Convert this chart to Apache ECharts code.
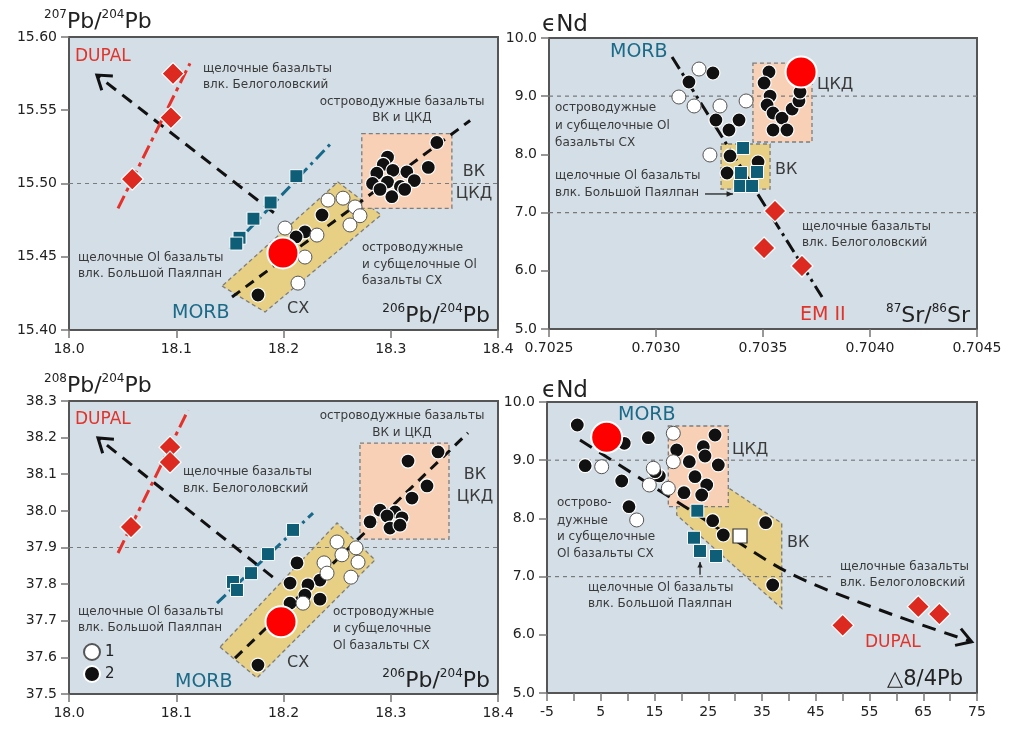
<!DOCTYPE html>
<html>
<head>
<meta charset="utf-8">
<script src="https://cdn.jsdelivr.net/npm/echarts@6/dist/echarts.min.js"></script>
<style>html,body{margin:0;background:#fff}#c{width:1010px;height:733px}</style>
</head>
<body>
<div id="c"></div>
<script>
// ---------- Panel A: 207Pb/204Pb vs 206Pb/204Pb ----------
const A_white = [[18.2415,15.4887],[18.2555,15.490],[18.2667,15.484],[18.2713,15.478],[18.262,15.4717],[18.2014,15.4696],[18.2312,15.4648],[18.220,15.4498],[18.2135,15.432]];
const A_black = [[18.343,15.528],[18.335,15.511],[18.297,15.518],[18.293,15.513],[18.302,15.509],[18.287,15.507],[18.315,15.508],[18.322,15.502],[18.283,15.500],[18.297,15.501],[18.309,15.498],[18.301,15.491],[18.313,15.496],[18.290,15.496],[18.2359,15.4785],[18.220,15.467],[18.2117,15.4635],[18.1762,15.4239]];
const A_morb = [[18.1995,15.4526]];
const A_belog = [[18.097,15.575],[18.095,15.545],[18.059,15.503]];
const A_payalpan = [[18.212,15.505],[18.188,15.487],[18.172,15.476],[18.159,15.463],[18.156,15.459]];
const A_belogTrend = [[18.0457,15.483],[18.1128,15.582]];
const A_payTrend = [[18.150,15.455],[18.245,15.528]];
const A_arcTrend = [[18.152,15.4225],[18.374,15.543]];
const A_dupalArrow = [[18.191,15.480],[18.026,15.574]];
const A_cxField = [[18.1427,15.430],[18.1828,15.4123],[18.2909,15.4785],[18.2508,15.501]];
const A_ckdField = [[18.273,15.534],[18.357,15.483]];
const A_ref = [15.50];

// ---------- Panel B: eNd vs 87Sr/86Sr ----------
const B_white = [[0.703201,9.467],[0.703107,8.986],[0.703178,8.832],[0.703299,8.832],[0.703421,8.918],[0.703252,7.990]];
const B_black = [[0.703154,9.244],[0.703266,9.399],[0.703280,8.591],[0.703388,8.591],[0.703341,8.419],[0.703346,7.973],[0.703332,7.680],[0.703477,7.869],[0.703528,9.416],[0.703505,9.227],[0.703533,9.003],[0.703519,8.849],[0.703547,8.711],[0.703589,8.625],[0.703636,8.780],[0.703668,8.918],[0.703673,9.072],[0.703547,8.419],[0.703612,8.419]];
const B_morb = [[0.703678,9.416]];
const B_belog = [[0.703556,7.027],[0.703505,6.392],[0.703682,6.082]];
const B_payalpan = [[0.703407,8.110],[0.703397,7.680],[0.703472,7.698],[0.703393,7.457],[0.703449,7.457]];
const B_trend = [[0.703075,9.674],[0.703776,5.550]];
const B_vkField = [[0.703304,8.179],[0.703533,7.405]];
const B_ckdField = [[0.703453,9.570],[0.703729,8.213]];
const B_noteArrow = [[0.703229,7.32],[0.703360,7.32]];
const B_ref = [9.0, 7.0];

// ---------- Panel C: 208Pb/204Pb vs 206Pb/204Pb ----------
const C_white = [[18.2499,37.915],[18.2676,37.899],[18.2545,37.880],[18.2695,37.860],[18.2378,37.858],[18.2629,37.819],[18.2406,37.830],[18.2182,37.748]];
const C_black = [[18.3441,38.161],[18.3161,38.136],[18.3338,38.068],[18.3198,38.035],[18.3040,37.997],[18.2900,38.002],[18.2965,37.986],[18.2807,37.970],[18.3105,37.981],[18.2993,37.953],[18.3086,37.961],[18.2126,37.858],[18.2061,37.803],[18.2340,37.811],[18.2228,37.798],[18.2340,37.759],[18.2200,37.770],[18.2061,37.748],[18.1762,37.579]];
const C_morb = [[18.1977,37.697]];
const C_belog = [[18.0942,38.174],[18.0942,38.133],[18.0578,37.956]];
const C_payalpan = [[18.2089,37.948],[18.1855,37.882],[18.1697,37.830],[18.1529,37.806],[18.1566,37.784]];
const C_belogTrend = [[18.0457,37.885],[18.111,38.275]];
const C_payTrend = [[18.138,37.748],[18.2275,37.994]];
const C_arcTrend = [[18.1548,37.598],[18.372,38.213]];
const C_dupalArrow = [[18.190,37.819],[18.027,38.199]];
const C_cxField = [[18.1408,37.628],[18.1753,37.544],[18.2853,37.866],[18.2499,37.967]];
const C_ckdField = [[18.2713,38.185],[18.3543,37.923]];
const C_ref = [37.9];

// ---------- Panel D: eNd vs delta 8/4 Pb ----------
const D_white = [[18.498,9.462],[5.177,8.888],[14.777,8.861],[14.033,8.574],[17.567,8.517],[11.688,7.973],[18.498,8.974]];
const D_black = [[0.637,9.605],[2.102,8.906],[9.381,9.290],[13.847,9.387],[8.898,8.643],[10.256,8.201],[15.893,8.729],[15.093,8.802],[26.256,9.433],[19.130,9.175],[24.079,9.232],[24.395,9.072],[21.474,8.974],[26.870,8.918],[22.535,8.717],[24.712,8.574],[20.488,8.442],[23.781,8.402],[25.828,7.961],[27.800,7.715],[35.688,7.926],[36.991,6.856]];
const D_whiteSquare = [[30.907,7.698]];
const D_morb = [[6.10,9.393]];
const D_payalpan = [[22.963,8.132],[22.349,7.668],[23.465,7.440],[26.442,7.354]];
const D_belog = [[50.01,6.163],[64.08,6.483],[67.99,6.357]];
const D_dupalArrow = [[1.14,9.347],[21.60,8.144],[39.60,7.084],[56.95,6.426],[74.01,5.881]];
const D_ckdField = [[17.57,9.588],[28.73,8.201]];
const D_vkField = [[19.13,8.201],[28.86,8.517],[38.67,7.916],[38.67,6.455],[19.13,8.058]];
const D_noteArrow = [[23.47,7.03],[23.47,7.25]];
const D_ref = [[9.0, 75], [7.0, 48.2]];

// ---------- axes ----------
const A_xTicks = {min: 18.0, max: 18.4, step: 0.1};
const A_yTicks = {min: 15.40, max: 15.60, step: 0.05};
const B_xTicks = {min: 0.7025, max: 0.7045, step: 0.0005};
const B_yTicks = {min: 5, max: 10, step: 1};
const C_yTicks = {min: 37.5, max: 38.3, step: 0.1};
const D_xTicks = {min: -5, max: 75, step: 5};

const F = 'DejaVu Sans';
const BG = '#d3dee6';
const ORANGE = '#f8d0b6';
const YELLOW = '#e7cf83';
const TEAL = '#0f5e78';
const RED = '#dc2a21';
const MORBC = '#1b6a88';
const TXT = '#3a3a3a';

function xAx(gi, t, dec, fmt) {
  return {
    gridIndex: gi, type: 'value', min: t.min, max: t.max, interval: t.step,
    axisLine: {show: true, onZero: false, lineStyle: {color: '#555', width: 2}},
    axisTick: {show: true, length: 8, lineStyle: {color: '#777', width: 1.5}},
    axisLabel: {fontFamily: F, fontSize: 14, color: '#222', margin: 12,
      formatter: fmt || (v => v.toFixed(dec))},
    splitLine: {show: false}
  };
}
function yAx(gi, t, dec) {
  return {
    gridIndex: gi, type: 'value', min: t.min, max: t.max, interval: t.step,
    axisLine: {show: true, onZero: false, lineStyle: {color: '#555', width: 2}},
    axisTick: {show: true, length: 8, lineStyle: {color: '#777', width: 1.5}},
    axisLabel: {fontFamily: F, fontSize: 14, color: '#222', margin: 12,
      formatter: v => v.toFixed(dec)},
    splitLine: {show: false}
  };
}

// ---------- series helpers ----------
function scatter(gi, name, data, style, z) {
  return Object.assign({
    type: 'scatter', name, xAxisIndex: gi, yAxisIndex: gi, data, z: z || 5,
    emphasis: {disabled: true}, silent: true
  }, style);
}
const whiteDot = {symbol: 'circle', symbolSize: 14, itemStyle: {color: '#ffffff', borderColor: '#555', borderWidth: 1, opacity: 1}};
const blackDot = {symbol: 'circle', symbolSize: 14, itemStyle: {color: '#111111', borderColor: '#ffffff', borderWidth: 1.2, opacity: 1}};
const morbDot = {symbol: 'circle', symbolSize: 31, itemStyle: {color: '#ff0000', borderColor: '#ffffff', borderWidth: 2, opacity: 1}};
const squareM = {symbol: 'rect', symbolSize: 13, itemStyle: {color: TEAL, borderColor: '#ffffff', borderWidth: 1, opacity: 1}};
const whiteSq = {symbol: 'rect', symbolSize: 14, itemStyle: {color: '#ffffff', borderColor: '#333', borderWidth: 1.2, opacity: 1}};
const diamondM = {symbol: 'diamond', symbolSize: 22, itemStyle: {color: RED, borderColor: '#ffffff', borderWidth: 1.2, opacity: 1}};

function lineS(gi, data, color, width, dash, z) {
  return {
    type: 'line', xAxisIndex: gi, yAxisIndex: gi, data, symbol: 'none', silent: true,
    z: z || 3, lineStyle: {color, width, type: dash}, emphasis: {disabled: true}
  };
}
function refLine(gi, y, x0, x1) {
  return lineS(gi, [[x0, y], [x1, y]], '#7a7a7a', 1.2, [4, 4], 2);
}
function rectPts(r) {
  return [[r[0][0], r[0][1]], [r[1][0], r[0][1]], [r[1][0], r[1][1]], [r[0][0], r[1][1]]];
}
function field(gi, pts, fill) {
  return {
    type: 'custom', xAxisIndex: gi, yAxisIndex: gi, data: [0], z: 1, silent: true,
    renderItem: (p, api) => ({
      type: 'polygon',
      shape: {points: pts.map(q => api.coord(q))},
      style: {fill, stroke: '#7d7d7d', lineWidth: 1.3, lineDash: [4, 3]}
    })
  };
}
function arrow(gi, pts, o) {
  return {
    type: 'custom', xAxisIndex: gi, yAxisIndex: gi, data: [0], z: o.z || 3, silent: true,
    renderItem: (p, api) => {
      const c = pts.map(q => api.coord(q));
      const n = c.length;
      const [x1, y1] = c[n - 2], [x2, y2] = c[n - 1];
      const a = Math.atan2(y2 - y1, x2 - x1);
      const h1 = [x2 - o.head * Math.cos(a - o.spread), y2 - o.head * Math.sin(a - o.spread)];
      const h2 = [x2 - o.head * Math.cos(a + o.spread), y2 - o.head * Math.sin(a + o.spread)];
      const kids = [{
        type: 'polyline', shape: {points: c, smooth: o.smooth || 0},
        style: {stroke: o.color, lineWidth: o.width, lineDash: o.dash || null, fill: null}
      }];
      if (o.filled) {
        kids.push({type: 'polygon', shape: {points: [h1, [x2, y2], h2]}, style: {fill: o.color}});
      } else {
        kids.push({type: 'polyline', shape: {points: [h1, [x2, y2], h2]},
          style: {stroke: o.color, lineWidth: o.width, fill: null}});
      }
      return {type: 'group', children: kids};
    }
  };
}

// ---------- text helpers ----------
function T(x, y, text, o) {
  o = o || {};
  return {
    type: 'text', x, y, z: 100, silent: true,
    style: {text, fontFamily: F, fontSize: o.fs || 12, fill: o.c || TXT,
      align: o.a || 'left', verticalAlign: 'middle'}
  };
}
function R(x, y, text, align, big) {
  return {
    type: 'text', x, y, z: 100, silent: true,
    style: {
      text, align, verticalAlign: 'middle',
      rich: {
        s: {fontFamily: F, fontSize: 12, fill: '#222', verticalAlign: 'top', lineHeight: 13},
        b: {fontFamily: F, fontSize: big || 22, fill: '#222', lineHeight: 26}
      }
    }
  };
}

const texts = [
  // panel A
  R(44, 22, '{s|207}{b|Pb/}{s|204}{b|Pb}', 'left'),
  T(75, 57, 'DUPAL', {fs: 17, c: '#e2332a'}),
  T(203, 69, 'щелочные базальты'), T(203, 85, 'влк. Белоголовский'),
  T(402, 102, 'островодужные базальты', {a: 'center'}), T(402, 118, 'ВК и ЦКД', {a: 'center'}),
  T(474, 172, 'ВК', {fs: 16, a: 'center'}), T(474, 194, 'ЦКД', {fs: 16, a: 'center'}),
  T(78, 258, 'щелочные Ol базальты'), T(78, 274, 'влк. Большой Паялпан'),
  T(172, 313, 'MORB', {fs: 19, c: MORBC}),
  T(287, 309, 'СХ', {fs: 16}),
  T(362, 248, 'островодужные'), T(362, 265, 'и субщелочные Ol'), T(362, 281, 'базальты СХ'),
  R(490, 316, '{s|206}{b|Pb/}{s|204}{b|Pb}', 'right'),
  // panel B
  T(542, 25, 'ϵNd', {fs: 23, c: '#222'}),
  T(610, 52, 'MORB', {fs: 19, c: MORBC}),
  T(555, 108, 'островодужные'), T(555, 126, 'и субщелочные Ol'), T(555, 143, 'базальты СХ'),
  T(555, 176, 'щелочные Ol базальты'), T(555, 193, 'влк. Большой Паялпан'),
  T(817, 85, 'ЦКД', {fs: 16}),
  T(775, 170, 'ВК', {fs: 16}),
  T(802, 227, 'щелочные базальты'), T(802, 243, 'влк. Белоголовский'),
  T(800, 315, 'EM II', {fs: 19, c: '#e2332a'}),
  R(970, 316, '{s|87}{b|Sr/}{s|86}{b|Sr}', 'right'),
  // panel C
  R(44, 386, '{s|208}{b|Pb/}{s|204}{b|Pb}', 'left'),
  T(75, 420, 'DUPAL', {fs: 17, c: '#e2332a'}),
  T(183, 472, 'щелочные базальты'), T(183, 489, 'влк. Белоголовский'),
  T(402, 416, 'островодужные базальты', {a: 'center'}), T(402, 433, 'ВК и ЦКД', {a: 'center'}),
  T(475, 475, 'ВК', {fs: 16, a: 'center'}), T(475, 497, 'ЦКД', {fs: 16, a: 'center'}),
  T(78, 612, 'щелочные Ol базальты'), T(78, 628, 'влк. Большой Паялпан'),
  T(333, 612, 'островодужные'), T(333, 629, 'и субщелочные'), T(333, 646, 'Ol базальты СХ'),
  T(287, 663, 'СХ', {fs: 16}),
  T(175, 682, 'MORB', {fs: 19, c: MORBC}),
  R(490, 681, '{s|206}{b|Pb/}{s|204}{b|Pb}', 'right'),
  // panel D
  T(542, 391, 'ϵNd', {fs: 23, c: '#222'}),
  T(618, 415, 'MORB', {fs: 19, c: MORBC}),
  T(732, 450, 'ЦКД', {fs: 16}),
  T(787, 543, 'ВК', {fs: 16}),
  T(557, 503, 'острово-'), T(557, 521, 'дужные'), T(557, 537, 'и субщелочные'), T(557, 554, 'Ol базальты СХ'),
  T(588, 588, 'щелочные Ol базальты'), T(588, 604, 'влк. Большой Паялпан'),
  T(840, 567, 'щелочные базальты'), T(840, 583, 'влк. Белоголовский'),
  T(865, 643, 'DUPAL', {fs: 17, c: '#e2332a'}),
  T(963, 680, '△8/4Pb', {fs: 21, c: '#222', a: 'right'})
];

const series = [
  // panel A
  field(0, A_cxField, YELLOW),
  field(0, rectPts(A_ckdField), ORANGE),
  ...A_ref.map(y => refLine(0, y, A_xTicks.min, A_xTicks.max)),
  lineS(0, A_belogTrend, '#e5312a', 3, [14, 5, 4, 5]),
  lineS(0, A_payTrend, '#16698a', 3, [12, 5, 3, 5]),
  lineS(0, A_arcTrend, '#111', 3, [10, 7]),
  arrow(0, A_dupalArrow, {color: '#111', width: 3, dash: [12, 8], head: 16, spread: 0.6}),
  scatter(0, '2', A_black, blackDot),
  scatter(0, '1', A_white, whiteDot),
  scatter(0, 'MORB', A_morb, morbDot, 6),
  scatter(0, 'Паялпан', A_payalpan, squareM),
  scatter(0, 'Белоголовский', A_belog, diamondM),
  // panel B
  field(1, rectPts(B_ckdField), ORANGE),
  field(1, rectPts(B_vkField), YELLOW),
  ...B_ref.map(y => refLine(1, y, B_xTicks.min, B_xTicks.max)),
  lineS(1, B_trend, '#111', 3, [14, 5, 3, 5]),
  arrow(1, B_noteArrow, {color: '#222', width: 1.3, head: 7, spread: 0.4, filled: true, z: 7}),
  scatter(1, '2', B_black, blackDot),
  scatter(1, '1', B_white, whiteDot),
  scatter(1, 'Паялпан', B_payalpan, squareM),
  scatter(1, 'MORB', B_morb, morbDot, 6),
  scatter(1, 'Белоголовский', B_belog, diamondM),
  // panel C
  field(2, C_cxField, YELLOW),
  field(2, rectPts(C_ckdField), ORANGE),
  ...C_ref.map(y => refLine(2, y, A_xTicks.min, A_xTicks.max)),
  lineS(2, C_belogTrend, '#e5312a', 3, [14, 5, 4, 5]),
  lineS(2, C_payTrend, '#16698a', 3, [12, 5, 3, 5]),
  lineS(2, C_arcTrend, '#111', 3, [10, 7]),
  arrow(2, C_dupalArrow, {color: '#111', width: 3, dash: [12, 8], head: 16, spread: 0.6}),
  scatter(2, '2', C_black, blackDot),
  scatter(2, '1', C_white, whiteDot),
  scatter(2, 'MORB', C_morb, morbDot, 6),
  scatter(2, 'Паялпан', C_payalpan, squareM),
  scatter(2, 'Белоголовский', C_belog, diamondM),
  // panel D
  field(3, D_vkField, YELLOW),
  field(3, rectPts(D_ckdField), ORANGE),
  ...D_ref.map(r => refLine(3, r[0], D_xTicks.min, r[1])),
  arrow(3, D_dupalArrow, {color: '#111', width: 3, dash: [14, 9], head: 17, spread: 0.55, smooth: 0.3}),
  arrow(3, D_noteArrow, {color: '#222', width: 1.3, head: 6, spread: 0.45, filled: true, z: 7}),
  scatter(3, '2', D_black, blackDot),
  scatter(3, '1', D_white, whiteDot),
  scatter(3, 'ВК', D_whiteSquare, whiteSq),
  scatter(3, 'MORB', D_morb, morbDot, 6),
  scatter(3, 'Паялпан', D_payalpan, squareM),
  scatter(3, 'Белоголовский', D_belog, diamondM)
];

const gridBox = {show: true, backgroundColor: BG, borderColor: '#555', borderWidth: 2};
const option = {
  animation: false,
  backgroundColor: '#ffffff',
  grid: [
    Object.assign({left: 69, top: 37, width: 429, height: 293}, gridBox),
    Object.assign({left: 549, top: 38, width: 428, height: 291}, gridBox),
    Object.assign({left: 69, top: 401, width: 429, height: 293}, gridBox),
    Object.assign({left: 547, top: 402, width: 430, height: 291}, gridBox)
  ],
  xAxis: [
    xAx(0, A_xTicks, 1),
    xAx(1, B_xTicks, 4),
    xAx(2, A_xTicks, 1),
    xAx(3, D_xTicks, 0, v => ((v + 5) % 10 === 0 ? String(v) : ''))
  ],
  yAxis: [
    yAx(0, A_yTicks, 2),
    yAx(1, B_yTicks, 1),
    yAx(2, C_yTicks, 1),
    yAx(3, B_yTicks, 1)
  ],
  legend: {
    data: ['1', '2'], orient: 'vertical', left: 78, top: 638, itemGap: 4,
    itemWidth: 16, itemHeight: 16, selectedMode: false,
    textStyle: {fontFamily: F, fontSize: 15, color: '#222'}
  },
  graphic: texts,
  series
};

const chart = echarts.init(document.getElementById('c'), null, {renderer: 'canvas'});
chart.setOption(option);
</script>
</body>
</html>
